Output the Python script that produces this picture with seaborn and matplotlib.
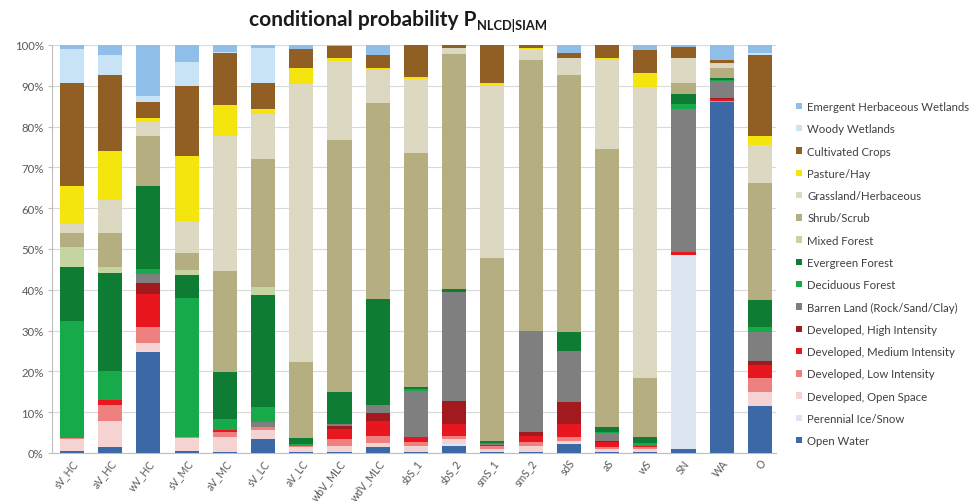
import matplotlib
matplotlib.use("Agg")
import matplotlib.pyplot as plt
import seaborn as sns
import numpy as np
from matplotlib.patches import Patch

categories = ["sV_HC", "aV_HC", "wV_HC", "sV_MC", "aV_MC", "sV_LC", "aV_LC", "wbV_MLC",
              "wdV_MLC", "sbS_1", "sbS_2", "smS_1", "smS_2", "sdS", "aS", "wS", "SN", "WA", "O"]

# percentages per NLCD class (bottom to top of stack)
open_water      = [0.4, 1.4, 24.7, 0.6, 0.3, 3.4, 0.2, 0.3, 1.4, 0.3, 1.6, 0.3, 0.3, 2.2, 0.3, 0.3, 1.1, 86.0, 11.6]
ice_snow        = [0, 0, 0, 0, 0, 0, 0, 0, 0, 0, 0.5, 0, 0, 0.3, 0, 0, 47.4, 0, 0]
dev_open        = [3.0, 6.5, 2.2, 3.0, 3.5, 2.3, 1.2, 1.5, 1.0, 1.5, 1.3, 0.8, 1.3, 0.5, 0.8, 0.8, 0, 0, 3.3]
dev_low         = [0.3, 3.9, 3.9, 0.2, 1.3, 0.6, 0.2, 1.6, 1.8, 0.8, 0.8, 0.5, 1.0, 1.0, 0.4, 0.3, 0, 0.2, 3.6]
dev_medium      = [0, 1.3, 8.1, 0, 0.6, 0, 0, 2.5, 3.7, 1.4, 2.9, 0.4, 1.6, 3.1, 1.1, 0.4, 0.8, 0.6, 3.1]
dev_high        = [0, 0, 2.7, 0, 0, 0, 0, 0.8, 1.9, 0, 5.7, 0, 0.9, 5.3, 0.3, 0, 0, 0.3, 1.0]
barren          = [0, 0, 2.2, 0, 0, 1.4, 0, 0.4, 2.0, 11.3, 26.7, 0.2, 24.9, 12.7, 1.9, 0, 35.1, 4.1, 7.0]
deciduous       = [28.7, 6.9, 1.3, 34.3, 2.6, 3.5, 0.5, 0, 0, 0.3, 0, 0.3, 0, 0, 0.4, 0.6, 1.1, 0.2, 1.4]
evergreen       = [13.1, 24.0, 20.4, 5.5, 11.5, 27.5, 1.6, 7.9, 25.9, 0.5, 0.8, 0.5, 0, 4.6, 1.2, 1.4, 2.4, 0.6, 6.6]
mixed_forest    = [5.1, 1.5, 0, 1.3, 0, 1.9, 0, 0, 0, 0, 0, 0, 0, 0, 0, 0, 0, 0, 0]
shrub_scrub     = [3.4, 8.5, 12.2, 4.2, 24.9, 31.4, 18.5, 61.7, 48.0, 57.5, 57.4, 44.9, 66.3, 62.9, 68.2, 14.5, 2.9, 2.4, 28.5]
grassland       = [2.2, 8.0, 3.4, 7.8, 33.0, 11.0, 68.2, 19.4, 8.2, 18.0, 1.6, 42.1, 2.6, 4.1, 21.7, 71.5, 6.1, 0.9, 9.3]
pasture_hay     = [9.3, 12.0, 1.1, 15.9, 7.5, 1.4, 4.0, 0.6, 0.4, 0.6, 0, 0.8, 0.3, 0, 0.4, 3.4, 0, 0.2, 2.3]
cultivated      = [25.3, 18.7, 3.8, 17.2, 12.8, 6.4, 4.7, 3.1, 3.2, 7.8, 0.7, 9.2, 0.8, 1.4, 3.3, 5.6, 2.7, 0.8, 19.8]
woody_wetlands  = [8.1, 4.9, 1.5, 5.8, 0.4, 8.5, 0, 0, 0, 0, 0, 0, 0, 0, 0, 0, 0, 0, 0.5]
emergent_wetl   = [1.1, 2.4, 12.5, 4.2, 1.6, 0.7, 0.9, 0.2, 2.5, 0, 0, 0, 0, 1.9, 0, 1.2, 0.4, 3.7, 2.0]

class_names = ["Open Water", "Perennial Ice/Snow", "Developed, Open Space", "Developed, Low Intensity",
               "Developed, Medium Intensity", "Developed, High Intensity", "Barren Land (Rock/Sand/Clay)",
               "Deciduous Forest", "Evergreen Forest", "Mixed Forest", "Shrub/Scrub",
               "Grassland/Herbaceous", "Pasture/Hay", "Cultivated Crops", "Woody Wetlands",
               "Emergent Herbaceous Wetlands"]
class_colors = ["#3D68A6", "#DCE5F2", "#F6D3D3", "#EF8080", "#E8161E", "#A2191E", "#7F7F7F",
                "#17AA4A", "#0E7C33", "#C4D5A2", "#B5AE80", "#DCD8C2", "#F5E50F", "#915E23",
                "#C9E3F6", "#8FBFE8"]

layers = [open_water, ice_snow, dev_open, dev_low, dev_medium, dev_high, barren, deciduous,
          evergreen, mixed_forest, shrub_scrub, grassland, pasture_hay, cultivated,
          woody_wetlands, emergent_wetl]

sns.set_style("white")
plt.rcParams["font.family"] = ["Lato", "DejaVu Sans"]

fig = plt.figure(figsize=(9.78, 5.02), dpi=100)
ax = fig.add_axes([52 / 978, 1 - 454 / 502, (776 - 52) / 978, (454 - 46) / 502])

cum = np.cumsum(np.array(layers, dtype=float), axis=0)
for i in range(len(layers) - 1, -1, -1):
    sns.barplot(x=categories, y=cum[i], order=categories, color=class_colors[i],
                saturation=1, width=0.63, errorbar=None, linewidth=0, ax=ax, zorder=3)

ax.set_xlim(-0.52, 18.42)
ax.set_ylim(0, 100)
ax.set_yticks(np.arange(0, 101, 10))
ax.set_yticklabels([f"{v}%" for v in range(0, 101, 10)], fontsize=8.2, color="#595959")
ax.set_xticks(range(len(categories)))
ax.set_xticklabels(categories, rotation=52, ha="right", rotation_mode="anchor",
                   fontsize=7.6, color="#595959")
ax.tick_params(axis="x", length=0, pad=3)
ax.tick_params(axis="y", length=3, color="#BFBFBF", pad=3, left=True)
ax.yaxis.grid(True, color="#D9D9D9", linewidth=0.8, zorder=0)
ax.set_axisbelow(True)
ax.set_xlabel("")
ax.set_ylabel("")
for s in ["top", "right"]:
    ax.spines[s].set_visible(False)
for s in ["left", "bottom"]:
    ax.spines[s].set_color("#BFBFBF")
    ax.spines[s].set_linewidth(0.8)

handles = [Patch(facecolor=class_colors[i], edgecolor="none", label=class_names[i])
           for i in range(len(layers) - 1, -1, -1)]
leg = fig.legend(handles=handles, loc="upper left", bbox_to_anchor=(796 / 978, 1 - 102 / 502),
                 frameon=False, fontsize=8.2, handlelength=0.5, handleheight=0.5,
                 handletextpad=0.5, labelspacing=0.99, borderpad=0, borderaxespad=0)
for t in leg.get_texts():
    t.set_color("#404040")

# title with subscript
t1 = fig.text(249 / 978, 1 - 26 / 502, "conditional probability P", fontsize=15,
              fontweight="bold", color="#1A1A1A", ha="left", va="baseline")
fig.canvas.draw()
bb = t1.get_window_extent(renderer=fig.canvas.get_renderer())
fig.text((bb.x1 + 1) / 978, 1 - 30 / 502, "NLCD|SIAM", fontsize=9.3,
         fontweight="bold", color="#1A1A1A", ha="left", va="baseline")

fig.savefig("out.png", dpi=100)
